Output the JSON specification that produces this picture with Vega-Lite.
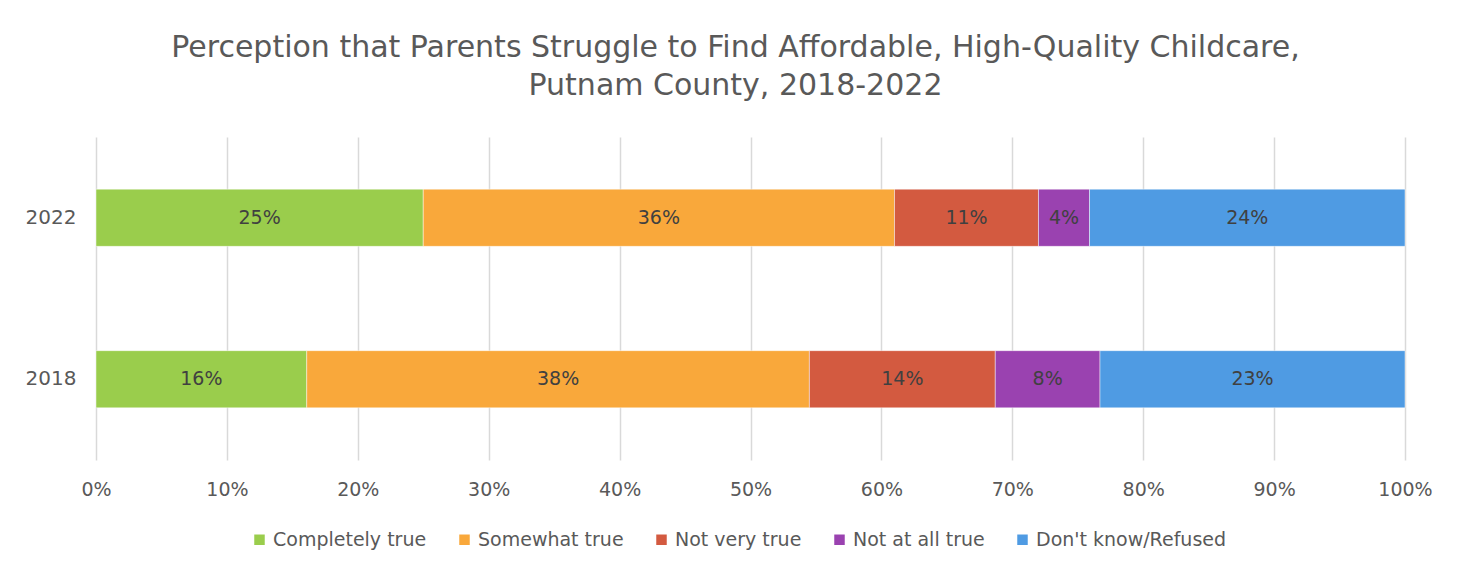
{
  "$schema": "https://vega.github.io/schema/vega-lite/v6.json",
  "width": 1309,
  "height": 323,
  "autosize": {"type": "none"},
  "padding": {"left": 96, "top": 137, "right": 67, "bottom": 113},
  "background": "white",
  "config": {
    "view": {"stroke": null},
    "font": "DejaVu Sans"
  },
  "title": {
    "text": ["Perception that Parents Struggle to Find Affordable, High-Quality Childcare,", "Putnam County, 2018-2022"],
    "fontSize": 30,
    "fontWeight": "normal",
    "font": "DejaVu Sans",
    "color": "#595959",
    "anchor": "middle",
    "dx": -15,
    "offset": 36,
    "lineHeight": 38
  },
  "data": {
    "values": [
      {"year": "2022", "category": "Completely true", "rank": 1, "pct": 0.250},
      {"year": "2022", "category": "Somewhat true", "rank": 2, "pct": 0.360},
      {"year": "2022", "category": "Not very true", "rank": 3, "pct": 0.110},
      {"year": "2022", "category": "Not at all true", "rank": 4, "pct": 0.039},
      {"year": "2022", "category": "Don't know/Refused", "rank": 5, "pct": 0.241},
      {"year": "2018", "category": "Completely true", "rank": 1, "pct": 0.161},
      {"year": "2018", "category": "Somewhat true", "rank": 2, "pct": 0.384},
      {"year": "2018", "category": "Not very true", "rank": 3, "pct": 0.142},
      {"year": "2018", "category": "Not at all true", "rank": 4, "pct": 0.080},
      {"year": "2018", "category": "Don't know/Refused", "rank": 5, "pct": 0.233}
    ]
  },
  "transform": [
    {
      "stack": "pct",
      "groupby": ["year"],
      "sort": [{"field": "rank", "order": "ascending"}],
      "offset": "normalize",
      "as": ["x0", "x1"]
    },
    {"calculate": "(datum.x0 + datum.x1) / 2", "as": "xmid"}
  ],
  "encoding": {
    "y": {
      "field": "year",
      "type": "nominal",
      "sort": ["2022", "2018"],
      "scale": {"paddingInner": 0.646, "paddingOuter": 0.323},
      "axis": {
        "title": null,
        "domain": false,
        "ticks": false,
        "labelPadding": 20,
        "labelFontSize": 20,
        "labelColor": "#595959",
        "labelFont": "DejaVu Sans"
      }
    }
  },
  "layer": [
    {
      "mark": {"type": "bar", "stroke": "white", "strokeWidth": 0.75, "strokeOpacity": 0.6},
      "encoding": {
        "x": {
          "field": "x0",
          "type": "quantitative",
          "scale": {"domain": [0, 1]},
          "axis": {
            "title": null,
            "format": ".0%",
            "values": [0, 0.1, 0.2, 0.3, 0.4, 0.5, 0.6, 0.7, 0.8, 0.9, 1],
            "grid": true,
            "gridColor": "#D9D9D9",
            "gridWidth": 1.5,
            "domain": false,
            "ticks": false,
            "labelFlush": false,
            "labelPadding": 20,
            "labelFontSize": 19,
            "labelColor": "#595959",
            "labelFont": "DejaVu Sans"
          }
        },
        "x2": {"field": "x1"},
        "color": {
          "field": "category",
          "type": "nominal",
          "scale": {
            "domain": ["Completely true", "Somewhat true", "Not very true", "Not at all true", "Don't know/Refused"],
            "range": ["#9ACD4C", "#F9A83B", "#D35A40", "#9A42B0", "#4F9BE3"]
          },
          "legend": {
            "title": null,
            "orient": "none",
            "direction": "horizontal",
            "legendX": 154,
            "legendY": 393,
            "symbolType": "square",
            "symbolSize": 110,
            "symbolStrokeWidth": 0,
            "labelFontSize": 19,
            "labelColor": "#595959",
            "labelFont": "DejaVu Sans",
            "labelOffset": 4,
            "labelLimit": 400,
            "columnPadding": 28
          }
        }
      }
    },
    {
      "mark": {"type": "text", "fontSize": 19, "color": "#404040", "font": "DejaVu Sans"},
      "encoding": {
        "x": {"field": "xmid", "type": "quantitative"},
        "text": {"field": "pct", "type": "quantitative", "format": ".0%"}
      }
    }
  ]
}
